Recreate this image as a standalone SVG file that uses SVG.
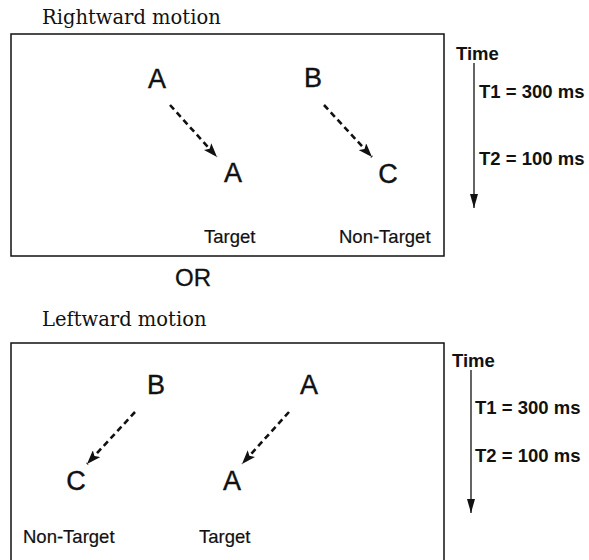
<svg xmlns="http://www.w3.org/2000/svg" width="589" height="560" viewBox="0 0 589 560">
  <style>
    .frame { fill: none; stroke: #111; stroke-width: 1.5; }
    .title { font-family: "DejaVu Serif", "Liberation Serif", serif; font-size: 19.5px; fill: #111; }
    .letter { font-family: "Liberation Sans", Arial, sans-serif; font-size: 27px; fill: #111; stroke: #111; stroke-width: 0.4; text-anchor: middle; }
    .label { font-family: "Liberation Sans", Arial, sans-serif; font-size: 18.5px; fill: #111; stroke: #111; stroke-width: 0.2; }
    .time { font-family: "Liberation Sans", Arial, sans-serif; font-size: 18.5px; font-weight: bold; fill: #111; }
    .or { font-family: "Liberation Sans", Arial, sans-serif; font-size: 24px; fill: #111; stroke: #111; stroke-width: 0.3; }
    .move { stroke: #111; stroke-width: 2.6; stroke-dasharray: 6 4; fill: none; marker-end: url(#head); }
    .axis { stroke: #111; stroke-width: 1.3; fill: none; marker-end: url(#axisHead); }
  </style>
  <defs>
    <marker id="head" viewBox="0 0 14 10" refX="14" refY="5" markerWidth="14" markerHeight="10" markerUnits="userSpaceOnUse" orient="auto">
      <path d="M0,0 L14,5 L0,10 L3,5 Z" fill="#111"/>
    </marker>
    <marker id="axisHead" viewBox="0 0 14 8" refX="14" refY="4" markerWidth="14" markerHeight="8" markerUnits="userSpaceOnUse" orient="auto">
      <path d="M0,0 L14,4 L0,8 Z" fill="#111"/>
    </marker>
  </defs>

  <!-- Rightward motion panel -->
  <g id="rightward">
    <text class="title" x="42" y="24">Rightward motion</text>
    <rect class="frame" x="11" y="34" width="433" height="222"/>
    <text class="letter" x="157" y="88">A</text>
    <text class="letter" x="233" y="182">A</text>
    <text class="letter" x="313" y="87">B</text>
    <text class="letter" x="388" y="183">C</text>
    <text class="label" x="204" y="243">Target</text>
    <text class="label" x="339" y="243">Non-Target</text>
  </g>

  <g id="or-label">
    <text class="or" x="175" y="286">OR</text>
  </g>

  <!-- Leftward motion panel -->
  <g id="leftward">
    <text class="title" x="42" y="326">Leftward motion</text>
    <path class="frame" d="M11,565 V343 H444 V565"/>
    <text class="letter" x="156" y="394">B</text>
    <text class="letter" x="76" y="490">C</text>
    <text class="letter" x="309" y="394">A</text>
    <text class="letter" x="232" y="490">A</text>
    <text class="label" x="23" y="543">Non-Target</text>
    <text class="label" x="199" y="543">Target</text>
  </g>

  <!-- Time scales -->
  <g id="time-top">
    <text class="time" x="456" y="60">Time</text>
    <text class="time" x="479" y="98">T1 = 300 ms</text>
    <text class="time" x="479" y="165">T2 = 100 ms</text>
  </g>
  <g id="time-bottom">
    <text class="time" x="452" y="367">Time</text>
    <text class="time" x="475" y="414">T1 = 300 ms</text>
    <text class="time" x="475" y="462">T2 = 100 ms</text>
  </g>

  <!-- Connectors -->
  <g id="connectors">
    <line class="move" x1="170" y1="105" x2="217" y2="157"/>
    <line class="move" x1="324" y1="105" x2="372" y2="157"/>
    <line class="move" x1="135" y1="412" x2="87" y2="464"/>
    <line class="move" x1="289" y1="412" x2="242" y2="464"/>
    <line class="axis" x1="474" y1="63" x2="474" y2="208"/>
    <line class="axis" x1="471" y1="370" x2="471" y2="513"/>
  </g>
</svg>
